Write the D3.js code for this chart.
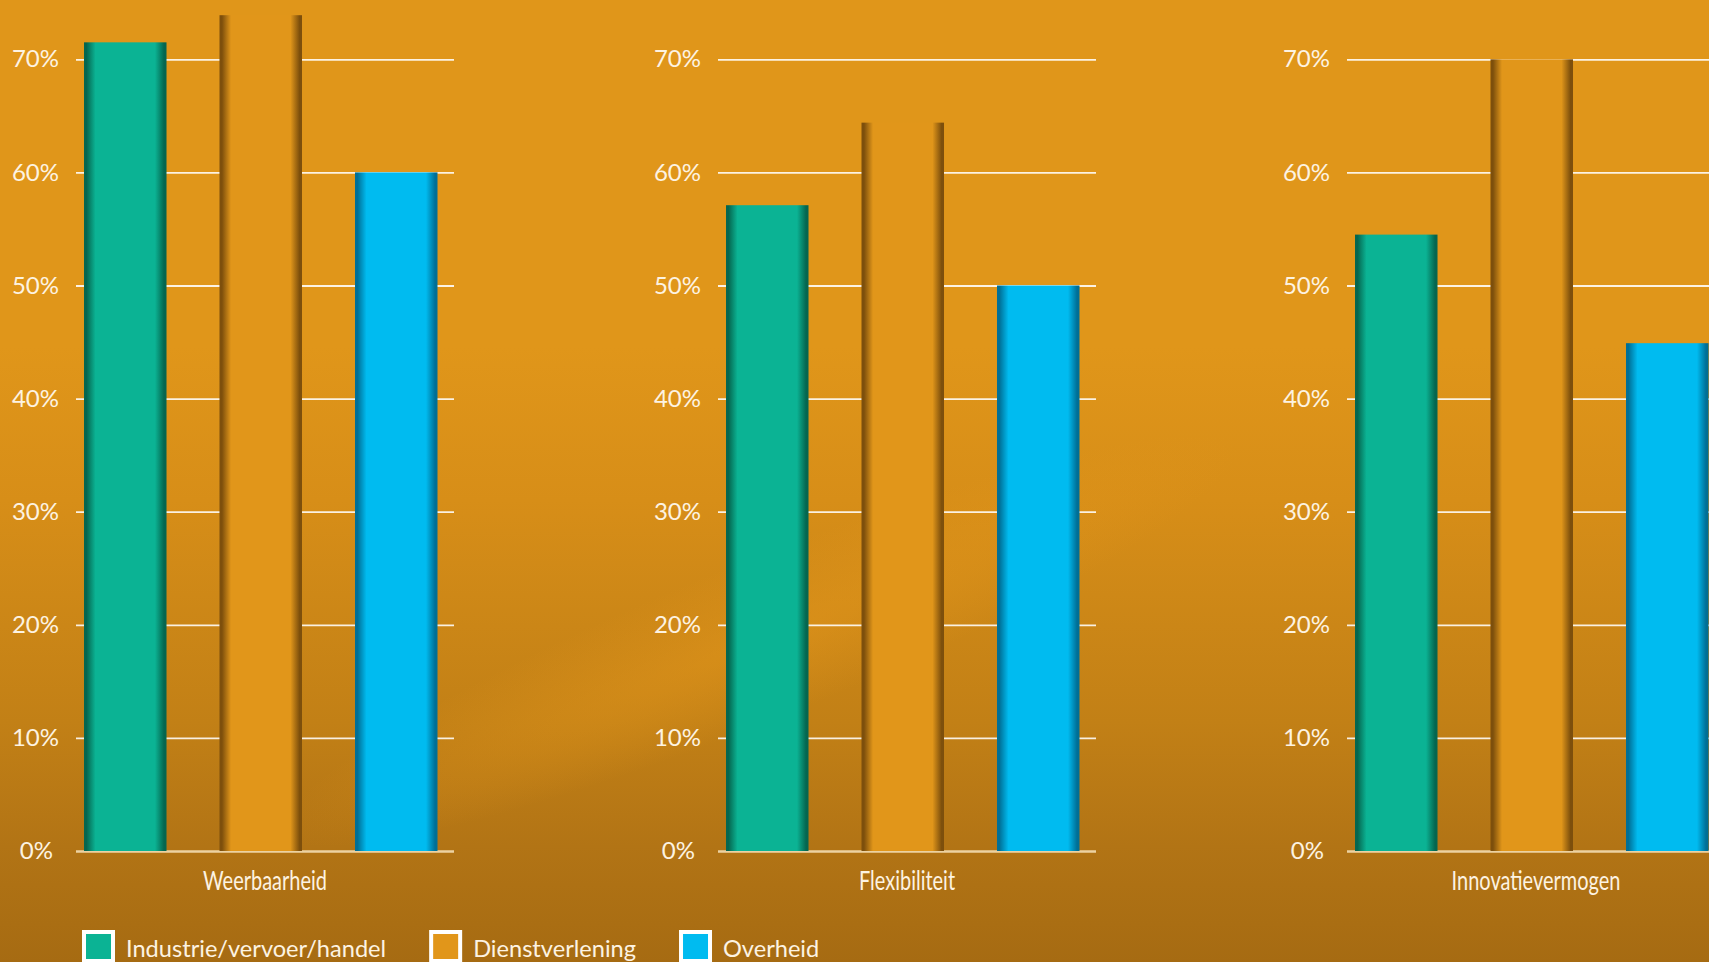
<!DOCTYPE html>
<html lang="nl">
<head>
<meta charset="utf-8">
<title>Weerbaarheid, flexibiliteit en innovatievermogen per sector</title>
<script src="https://cdn.jsdelivr.net/npm/d3@7"></script>
<style>
  html, body { margin: 0; padding: 0; overflow: hidden; background: #e0961a; }
  svg { display: block; }
  .tick-label { font-family: Lato, "Open Sans", sans-serif; font-size: 24px; fill: #fdf3e2; }
  .cat-label { font-family: Lato, "Open Sans", sans-serif; font-size: 27px; fill: #fdf3e2; }
  .legend-label { font-family: Lato, "Open Sans", sans-serif; font-size: 23.6px; fill: #fdf3e2; }
</style>
</head>
<body>
<svg id="chart" width="1709" height="962"></svg>
<script>
// ---- data (percentages) ----
const categories = ["Weerbaarheid", "Flexibiliteit", "Innovatievermogen"];
const seriesNames = ["Industrie/vervoer/handel", "Dienstverlening", "Overheid"];
const industrie = [71.5, 57.1, 54.5];
const dienstverlening = [73.9, 64.4, 70.0];
const overheid = [60.0, 50.0, 44.9];
const yTicks = [0, 10, 20, 30, 40, 50, 60, 70];

// ---- styling / layout ----
const seriesColors = [
  { main: "#0bb394", edge: "#05664f" },
  { main: "#e1961a", edge: "#7d4f0c" },
  { main: "#00bbf0", edge: "#006f96" }
];
const W = 1709, H = 962;
const panelLeft = [76, 718, 1347];
const panelWidth = 378;
const baseY = 851, topY = 59.3;

const svg = d3.select("#chart");
const defs = svg.append("defs");

// background: flat orange on top, darkening toward the bottom
const bg = defs.append("linearGradient").attr("id", "bg")
  .attr("x1", 0).attr("y1", 0).attr("x2", 0).attr("y2", 1);
[[0, "#e0961a"], [0.36, "#e0961a"], [0.52, "#d78e18"], [0.75, "#c28016"], [0.88, "#b27415"], [1, "#a66b12"]]
  .forEach(([o, c]) => bg.append("stop").attr("offset", o).attr("stop-color", c));
svg.append("rect").attr("width", W).attr("height", H).attr("fill", "url(#bg)");

// soft glow band across the lower background
const glow = defs.append("radialGradient").attr("id", "glow");
glow.append("stop").attr("offset", 0).attr("stop-color", "#e89a1c").attr("stop-opacity", 0.45);
glow.append("stop").attr("offset", 1).attr("stop-color", "#e89a1c").attr("stop-opacity", 0);
const glowG = svg.append("g").attr("transform", "translate(760,640) rotate(-22)");
glowG.append("ellipse").attr("rx", 520).attr("ry", 80).attr("fill", "url(#glow)");

// bar shading: dark edges fading into the series colour
seriesColors.forEach((c, i) => {
  const g = defs.append("linearGradient").attr("id", "bar" + i)
    .attr("x1", 0).attr("y1", 0).attr("x2", 1).attr("y2", 0);
  [[0, c.edge], [0.03, c.edge], [0.14, c.main], [0.86, c.main], [0.97, c.edge], [1, c.edge]]
    .forEach(([o, col]) => g.append("stop").attr("offset", o).attr("stop-color", col));
});

// ---- scales ----
const y = d3.scaleLinear().domain([0, 70]).range([baseY, topY]);
const x = d3.scaleBand().domain(seriesNames).range([0, 369.5])
  .paddingInner(0.391).paddingOuter(0.059);

const seriesValues = [industrie, dienstverlening, overheid];

categories.forEach((cat, ci) => {
  const g = svg.append("g").attr("transform", `translate(${panelLeft[ci]},0)`);

  // gridlines and tick labels
  const axis = g.append("g").call(
    d3.axisLeft(y).tickValues(yTicks).tickFormat(d => d + "%")
      .tickSize(-panelWidth).tickPadding(17)
  );
  axis.select(".domain").remove();
  axis.selectAll(".tick line")
    .attr("stroke", d => d === 0 ? "#ecd2a2" : "#ffffff")
    .attr("stroke-opacity", d => d === 0 ? 1 : 0.88)
    .attr("stroke-width", d => d === 0 ? 2.5 : 1.8);
  axis.selectAll(".tick text")
    .attr("class", "tick-label")
    .attr("fill", null)
    .attr("font-size", null).attr("font-family", null)
    .attr("x", d => d === 0 ? -23 : -17);

  // bars
  g.selectAll("rect.bar")
    .data(seriesNames.map((s, si) => ({ s, si, v: seriesValues[si][ci] })))
    .join("rect")
    .attr("class", "bar")
    .attr("x", d => x(d.s))
    .attr("width", x.bandwidth())
    .attr("y", d => y(d.v))
    .attr("height", d => baseY - y(d.v))
    .attr("fill", d => `url(#bar${d.si})`);

  // category label, set in a condensed style
  g.append("text")
    .attr("class", "cat-label")
    .attr("transform", `translate(${panelWidth / 2},890) scale(0.74,1)`)
    .attr("text-anchor", "middle")
    .text(cat);
});

// ---- legend ----
const legend = svg.append("g").attr("transform", "translate(84,932)");
let lx = 0;
seriesNames.forEach((name, i) => {
  const item = legend.append("g").attr("transform", `translate(${lx},0)`);
  item.append("rect")
    .attr("width", 29).attr("height", 29)
    .attr("fill", seriesColors[i].main)
    .attr("stroke", "#ffffff").attr("stroke-width", 4);
  const t = item.append("text")
    .attr("class", "legend-label")
    .attr("x", 42).attr("y", 25)
    .text(name);
  lx += 42 + t.node().getComputedTextLength() + 45;
});
</script>
</body>
</html>
